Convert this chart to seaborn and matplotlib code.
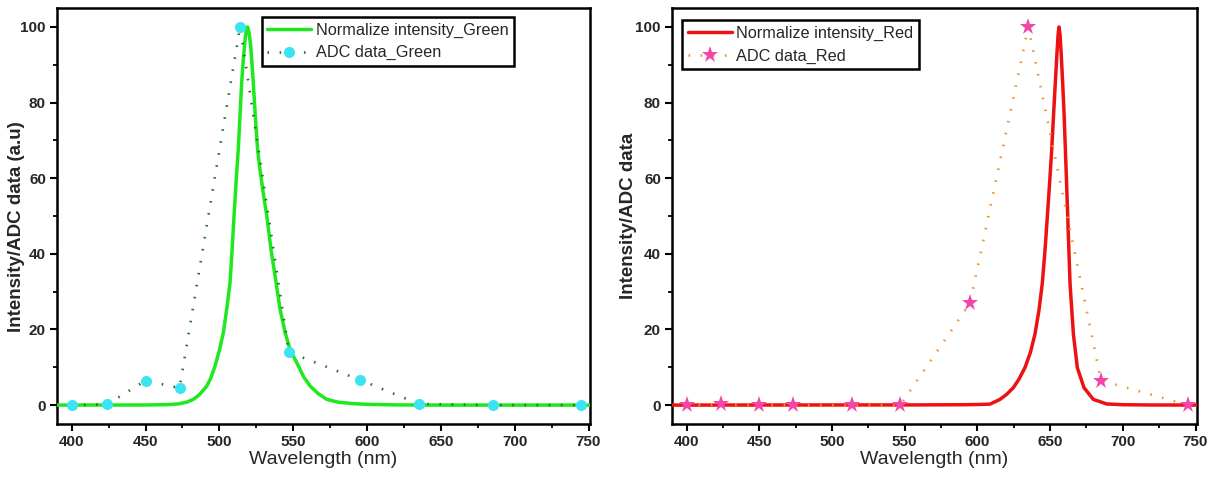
import matplotlib
matplotlib.use("Agg")
import matplotlib.pyplot as plt
import seaborn as sns
import pandas as pd
from matplotlib.ticker import MultipleLocator

# ---------------- data ----------------
adc_wl = [400, 424, 450, 473, 514, 547, 595, 635, 685, 745]
adc_green = [0, 0.2, 6.5, 4.5, 100, 14, 6.7, 0.3, 0, 0]
adc_red = [0, 0.2, 0, 0, 0, 0, 27, 100, 6.5, 0]

green_wl = [380, 450, 465, 472, 478, 482.3, 486, 488.5, 491.4, 494, 497, 500, 502.7,
            505, 507.2, 508.6, 509.9, 511.3, 512.8, 514, 515.1, 516.3, 517.5, 518.3,
            519.0, 519.7, 520.4, 521.3, 522.9, 524.3, 525.8, 527.4, 529, 530.5, 532.1,
            535, 538.4, 541, 544.5, 548, 553.6, 557, 561.5, 567, 572.8, 580, 590, 600,
            620, 650, 760]
green_int = [0, 0.03, 0.12, 0.3, 0.8, 1.5, 2.6, 3.7, 5.0, 7.0, 10.3, 14.5, 19.2,
             25.5, 32.4, 41, 50, 59, 67.8, 77, 85.5, 92, 97, 99.3,
             100, 99.2, 97.5, 94.5, 85.5, 76.5, 67.8, 62.5, 58, 54, 50,
             41, 32.4, 25.5, 19.2, 14.5, 10.3, 7.5, 5.0, 3.0, 1.5, 0.8, 0.4, 0.2,
             0.05, 0, 0]

red_wl = [380, 560, 590, 600, 608.6, 615.5, 620, 624.7, 628.5, 632.7, 636.5, 639.6,
          642.3, 644.6, 646.5, 648.1, 649.7, 651.1, 652.4, 653.6, 654.7, 655.5, 656.1,
          656.8, 657.6, 658.6, 659.6, 660.5, 661.3, 662.1, 663.7, 666, 668.7, 673.3,
          679.7, 688.9, 700, 720, 760]
red_int = [0, 0.05, 0.1, 0.15, 0.25, 1.5, 2.8, 4.6, 6.8, 9.9, 14, 18.8,
           25, 32.1, 41, 49.9, 59, 67.6, 77, 85.4, 93, 98, 100,
           98, 93, 85.4, 77, 67.6, 59, 49.9, 32.1, 18.8, 9.9, 4.6,
           1.5, 0.3, 0.1, 0.03, 0]

xticks = [400, 450, 500, 550, 600, 650, 700, 750]
yticks = [0, 20, 40, 60, 80, 100]

# ---------------- style ----------------
sns.set_style("ticks")
plt.rcParams["font.family"] = ["Liberation Sans", "DejaVu Sans"]
plt.rcParams["axes.linewidth"] = 1.8

fig = plt.figure(figsize=(12.16, 4.83), dpi=100)
ax1 = fig.add_axes([57/1216, 1 - 424/483, (590-57)/1216, (424-8)/483])
ax2 = fig.add_axes([672/1216, 1 - 424/483, (1197-672)/1216, (424-8)/483])

df_g = pd.DataFrame({"wl": green_wl, "val": green_int})
df_r = pd.DataFrame({"wl": red_wl, "val": red_int})
df_ag = pd.DataFrame({"wl": adc_wl, "val": adc_green})
df_ar = pd.DataFrame({"wl": adc_wl, "val": adc_red})

sns.lineplot(data=df_g, x="wl", y="val", ax=ax1, color="#1fe81f", lw=2.5,
             label="Normalize intensity_Green", sort=False, zorder=3)
sns.lineplot(data=df_ag, x="wl", y="val", ax=ax1, color="#2c6e2c", lw=1.9,
             linestyle=(0, (0.6, 4.0)), marker="o", markersize=8,
             markerfacecolor="#3de3f2", markeredgecolor="#3de3f2", markeredgewidth=0,
             label="ADC data_Green", sort=False, zorder=4)

sns.lineplot(data=df_r, x="wl", y="val", ax=ax2, color="#ee1111", lw=2.5,
             label="Normalize intensity_Red", sort=False, zorder=3)
sns.lineplot(data=df_ar, x="wl", y="val", ax=ax2, color="#f0902e", lw=1.9,
             linestyle=(0, (0.6, 4.0)), marker="*", markersize=12.5,
             markerfacecolor="#f545a8", markeredgecolor="#f545a8", markeredgewidth=0,
             label="ADC data_Red", sort=False, zorder=4)

label_pos = {id(ax1): (-0.060, 0.475), id(ax2): (-0.067, 0.5)}
for ax, ylab in [(ax1, "Intensity/ADC data (a.u)"), (ax2, "Intensity/ADC data")]:
    ax.set_xlim(390, 751)
    ax.set_ylim(-5, 105)
    ax.set_xticks(xticks)
    ax.set_yticks(yticks)
    ax.xaxis.set_minor_locator(MultipleLocator(25))
    ax.yaxis.set_minor_locator(MultipleLocator(10))
    ax.tick_params(which="major", direction="out", length=5, width=1.5,
                   labelsize=11, color="black", pad=3)
    ax.tick_params(which="minor", direction="out", length=3, width=1.3, color="black")
    for lab in ax.get_xticklabels() + ax.get_yticklabels():
        lab.set_fontweight("bold")
    ax.set_xlabel("Wavelength (nm)", fontsize=14, labelpad=1)
    ax.set_ylabel(ylab, fontsize=13.5, fontweight="bold")
    ax.yaxis.set_label_coords(*label_pos[id(ax)])
    for s in ax.spines.values():
        s.set_visible(True)
        s.set_color("black")
        s.set_linewidth(1.8)

leg_kw = dict(fontsize=11.7, frameon=True, fancybox=False, edgecolor="black",
              framealpha=1, handlelength=2.7, borderpad=0.35, labelspacing=0.45,
              handletextpad=0.3, borderaxespad=0)
leg1 = ax1.legend(loc="upper right", bbox_to_anchor=(0.858, 0.978), **leg_kw)
leg1.get_frame().set_linewidth(1.8)
leg2 = ax2.legend(loc="upper left", bbox_to_anchor=(0.019, 0.97), **leg_kw)
leg2.get_frame().set_linewidth(1.8)

fig.savefig("out.png", dpi=100)
